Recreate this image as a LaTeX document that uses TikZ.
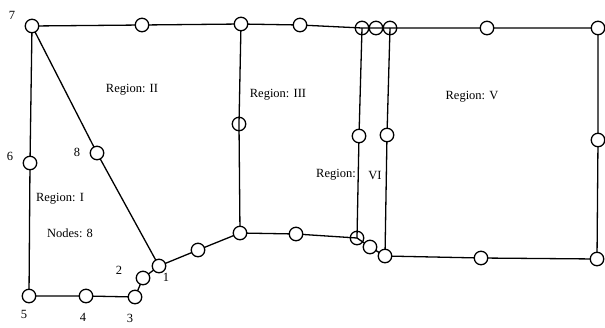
\documentclass[tikz,border=0pt]{standalone}
\usepackage{fontspec}
\setmainfont{Liberation Serif}
\begin{document}
\begin{tikzpicture}[x=1pt,y=-1pt,
  vtx/.style={circle,draw=black,fill=white,line width=1.3pt,minimum size=13.5pt,inner sep=0pt},
  hollow/.style={circle,draw=black,line width=1.3pt,minimum size=13.5pt,inner sep=0pt},
  edge/.style={line width=1.3pt},
  lbl/.style={font=\fontsize{12.5}{14}\selectfont,inner sep=0pt}]
\useasboundingbox (0,0) rectangle (605,327);
% vertex positions
\coordinate (c7) at (32,26);
\coordinate (c6) at (30,163);
\coordinate (c5) at (29,296);
\coordinate (c4) at (86,296);
\coordinate (c3) at (135,297);
\coordinate (c2) at (143,278);
\coordinate (c1) at (159,266);
\coordinate (c8) at (97,153);
\coordinate (ta) at (142,25);
\coordinate (tb) at (241,24);
\coordinate (tc) at (300,25);
\coordinate (td) at (362,28);
\coordinate (te) at (376,28);
\coordinate (tf) at (390,28);
\coordinate (tg) at (487,28);
\coordinate (th) at (598,28);
\coordinate (rm) at (598,140);
\coordinate (rb) at (597,259);
\coordinate (bf) at (481,258);
\coordinate (be) at (385,256);
\coordinate (bd) at (370,247);
\coordinate (bc) at (357,238);
\coordinate (bb) at (296,234);
\coordinate (ba) at (240,233);
\coordinate (b0) at (198,250);
\coordinate (m3) at (239,124);
\coordinate (m6a) at (359,136);
\coordinate (m6b) at (387,135);
% edges
\draw[edge] (c7) -- (c6) -- (c5) -- (c4) -- (c3) -- (c2) -- (c1);
\draw[edge] (c7) -- (c8) -- (c1);
\draw[edge] (c1) -- (b0) -- (ba) -- (bb) -- (bc) -- (bd) -- (be) -- (bf) -- (rb) -- (rm) -- (th);
\draw[edge] (c7) -- (ta) -- (tb) -- (tc) -- (td) -- (te) -- (tf) -- (tg) -- (th);
\draw[edge] (tb) -- (m3) -- (ba);
\draw[edge] (td) -- (m6a) -- (bc);
\draw[edge] (tf) -- (m6b) -- (be);
% vertices
\foreach \p in {c7,c6,c5,c4,c3,c2,c1,c8,ta,tb,tc,tg,th,rm,rb,bf,bd,bb,ba,b0,m6a,m6b,be}
  \node[vtx] (v\p) at (\p) {};
\foreach \p in {td,te,tf,m3,bc}
  \node[hollow] (v\p) at (\p) {};
% vertex numbers
\node[lbl] (l7) at (12,15) {7};
\node[lbl] (l6) at (10,156) {6};
\node[lbl] (l5) at (24,314) {5};
\node[lbl] (l4) at (83,317) {4};
\node[lbl] (l3) at (130,318) {3};
\node[lbl] (l2) at (119,270) {2};
\node[lbl] (l1) at (166,277) {1};
\node[lbl] (l8) at (77,152) {8};
% region captions
\node[lbl] (rII) at (132,90) {Region: II};
\node[lbl] (rI) at (60,199) {Region: I};
\node[lbl] (nI) at (70,233) {Nodes: 8};
\node[lbl] (rIII) at (278,95) {Region: III};
\node[lbl] (rVIa) at (336,175) {Region:};
\node[lbl] (rVIb) at (375,175) {VI};
\node[lbl] (rV) at (472,97) {Region: V};
\end{tikzpicture}
\end{document}
